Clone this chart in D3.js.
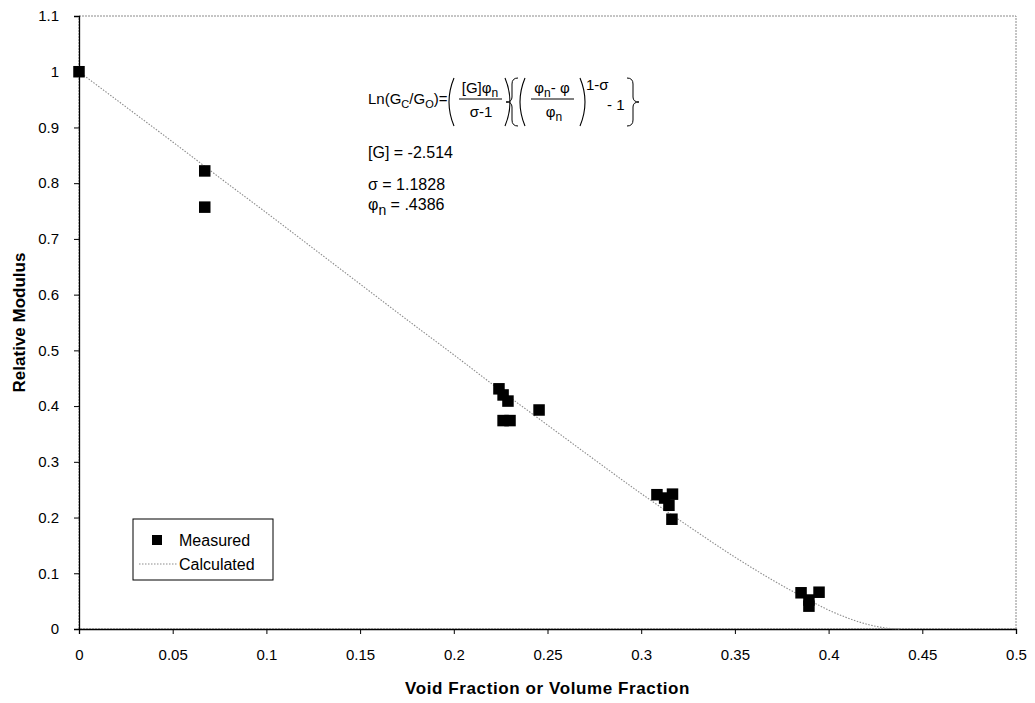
<!DOCTYPE html>
<html>
<head>
<meta charset="utf-8">
<script src="https://cdn.jsdelivr.net/npm/d3@7/dist/d3.min.js"></script>
<style>
  html, body { margin: 0; padding: 0; background: #fff; }
  svg { display: block; font-family: "Liberation Sans", Arial, sans-serif; }
</style>
</head>
<body>
<svg id="chart" width="1035" height="703"></svg>
<script>
// ---- data ----
const measuredX = [0, 0.0671, 0.0671, 0.2241, 0.2263, 0.2289, 0.2263, 0.2300, 0.2455,
                   0.3084, 0.3125, 0.3167, 0.3148, 0.3164, 0.3853, 0.3949, 0.3895, 0.3895];
const measuredY = [1.0, 0.822, 0.757, 0.431, 0.420, 0.409, 0.374, 0.374, 0.393,
                   0.241, 0.235, 0.242, 0.222, 0.197, 0.065, 0.066, 0.052, 0.041];

const calcX = [0, 0.025, 0.05, 0.075, 0.1, 0.125, 0.15, 0.175, 0.2, 0.225, 0.25, 0.275,
               0.3, 0.325, 0.35, 0.37, 0.39, 0.40, 0.41, 0.42, 0.43, 0.4386];
const calcY = [1.0, 0.937, 0.874, 0.810, 0.747, 0.683, 0.619, 0.555, 0.492, 0.428, 0.366, 0.304,
               0.243, 0.185, 0.129, 0.088, 0.051, 0.034, 0.020, 0.009, 0.002, 0.0];

const xTicks = [0, 0.05, 0.1, 0.15, 0.2, 0.25, 0.3, 0.35, 0.4, 0.45, 0.5];
const xTickLabels = ["0", "0.05", "0.1", "0.15", "0.2", "0.25", "0.3", "0.35", "0.4", "0.45", "0.5"];
const yTicks = [0, 0.1, 0.2, 0.3, 0.4, 0.5, 0.6, 0.7, 0.8, 0.9, 1.0, 1.1];
const yTickLabels = ["0", "0.1", "0.2", "0.3", "0.4", "0.5", "0.6", "0.7", "0.8", "0.9", "1", "1.1"];

const seriesNames = ["Measured", "Calculated"];
const xTitle = "Void Fraction or Volume Fraction";
const yTitle = "Relative Modulus";

// ---- layout ----
const svg = d3.select("#chart");
const pL = 79, pR = 1016, pT = 16, pB = 629;
const x = d3.scaleLinear().domain([0, 0.5]).range([pL, pR]);
const y = d3.scaleLinear().domain([0, 1.1]).range([pB, pT]);

// plot border (light grey)
svg.append("rect")
  .attr("x", pL).attr("y", pT)
  .attr("width", pR - pL).attr("height", pB - pT)
  .attr("fill", "none").attr("stroke", "#8a8a8a").attr("stroke-width", 1)
  .attr("stroke-dasharray", "2,1");

// axes
const xAxis = svg.append("g").attr("transform", `translate(0,${pB})`)
  .call(d3.axisBottom(x).tickValues(xTicks).tickSize(5).tickPadding(15)
    .tickFormat((d, i) => xTickLabels[i]));
const yAxis = svg.append("g").attr("transform", `translate(${pL},0)`)
  .call(d3.axisLeft(y).tickValues(yTicks).tickSize(5).tickPadding(15)
    .tickFormat((d, i) => yTickLabels[i]));
[xAxis, yAxis].forEach(a => {
  a.select(".domain").attr("stroke", "#000").attr("stroke-width", 1.3);
  a.selectAll(".tick line").attr("stroke", "#000");
  a.selectAll(".tick text").attr("font-size", 15).attr("fill", "#000")
    .attr("font-family", "'Liberation Sans', Arial, sans-serif");
});

// axis titles
svg.append("text").attr("x", (pL + pR) / 2).attr("y", 694)
  .attr("text-anchor", "middle").attr("font-size", 17).attr("font-weight", "bold")
  .attr("letter-spacing", 0.6)
  .text(xTitle);
svg.append("text").attr("transform", `translate(25,${(pT + pB) / 2}) rotate(-90)`)
  .attr("text-anchor", "middle").attr("font-size", 17).attr("font-weight", "bold")
  .text(yTitle);

// calculated line
const line = d3.line().x((d, i) => x(calcX[i])).y((d, i) => y(calcY[i])).curve(d3.curveMonotoneX);
svg.append("path").datum(calcX)
  .attr("d", line)
  .attr("fill", "none").attr("stroke", "#8c8c8c").attr("stroke-width", 1.1)
  .attr("stroke-dasharray", "1.5,1.5");

// measured squares
const sz = 11.5;
svg.append("g").selectAll("rect").data(measuredX).join("rect")
  .attr("x", (d, i) => x(measuredX[i]) - sz / 2)
  .attr("y", (d, i) => y(measuredY[i]) - sz / 2)
  .attr("width", sz).attr("height", sz).attr("fill", "#000");

// legend
const lg = svg.append("g");
lg.append("rect").attr("x", 133).attr("y", 519).attr("width", 140).attr("height", 61)
  .attr("fill", "#fff").attr("stroke", "#000").attr("stroke-width", 1);
lg.append("rect").attr("x", 157 - 5).attr("y", 540 - 5).attr("width", 10).attr("height", 10).attr("fill", "#000");
lg.append("text").attr("x", 179).attr("y", 546).attr("font-size", 16).text(seriesNames[0]);
lg.append("line").attr("x1", 139).attr("x2", 178).attr("y1", 564).attr("y2", 564)
  .attr("stroke", "#8c8c8c").attr("stroke-width", 1.1).attr("stroke-dasharray", "1.5,1.5");
lg.append("text").attr("x", 179).attr("y", 570).attr("font-size", 16).text(seriesNames[1]);

// ---- equation annotation ----
const eq = svg.append("g").attr("font-size", 15).attr("fill", "#000");
const base = 104;
function paren(xp, y0, y1, dir) {
  eq.append("path").attr("d", `M${xp},${y0} Q${xp - dir * 10},${(y0 + y1) / 2} ${xp},${y1}`)
    .attr("fill", "none").attr("stroke", "#000").attr("stroke-width", 1.1);
}
function brace(xp, y0, y1, dir) {
  const w = 6 * dir, ym = (y0 + y1) / 2;
  eq.append("path").attr("d",
    `M${xp + w},${y0} Q${xp},${y0} ${xp},${y0 + 6} L${xp},${ym - 5} Q${xp},${ym} ${xp - w},${ym}` +
    ` Q${xp},${ym} ${xp},${ym + 5} L${xp},${y1 - 6} Q${xp},${y1} ${xp + w},${y1}`)
    .attr("fill", "none").attr("stroke", "#000").attr("stroke-width", 1);
}
const t1 = eq.append("text").attr("x", 368).attr("y", base);
t1.append("tspan").text("Ln(G");
t1.append("tspan").attr("font-size", 11).attr("dy", 4).text("C");
t1.append("tspan").attr("dy", -4).text("/G");
t1.append("tspan").attr("font-size", 11).attr("dy", 4).text("O");
t1.append("tspan").attr("dy", -4).text(")=");

paren(454, 78, 126, 1);
const n1 = eq.append("text").attr("x", 480).attr("y", 93).attr("text-anchor", "middle");
n1.append("tspan").text("[G]φ");
n1.append("tspan").attr("font-size", 12).attr("dy", 4).text("n");
eq.append("line").attr("x1", 459).attr("x2", 502).attr("y1", 99).attr("y2", 99)
  .attr("stroke", "#000").attr("stroke-width", 1);
eq.append("text").attr("x", 481).attr("y", 117).attr("text-anchor", "middle").text("σ-1");
paren(505, 78, 126, -1);

brace(512, 78, 126, 1);
paren(525, 78, 126, 1);
const n2 = eq.append("text").attr("x", 552).attr("y", 93).attr("text-anchor", "middle");
n2.append("tspan").text("φ");
n2.append("tspan").attr("font-size", 12).attr("dy", 4).text("n");
n2.append("tspan").attr("dy", -4).text("- φ");
eq.append("line").attr("x1", 531).attr("x2", 574).attr("y1", 99).attr("y2", 99)
  .attr("stroke", "#000").attr("stroke-width", 1);
const d2 = eq.append("text").attr("x", 554).attr("y", 117).attr("text-anchor", "middle");
d2.append("tspan").text("φ");
d2.append("tspan").attr("font-size", 12).attr("dy", 4).text("n");
paren(580, 78, 126, -1);
eq.append("text").attr("x", 586).attr("y", 90).text("1-σ");
eq.append("text").attr("x", 607).attr("y", 110).text("- 1");
brace(633, 78, 126, -1);

const p = svg.append("g").attr("font-size", 16);
p.append("text").attr("x", 368).attr("y", 158).text("[G] = -2.514");
p.append("text").attr("x", 368).attr("y", 190).text("σ = 1.1828");
const ph = p.append("text").attr("x", 368).attr("y", 210);
ph.append("tspan").text("φ");
ph.append("tspan").attr("font-size", 14).attr("dy", 5).text("n");
ph.append("tspan").attr("dy", -5).text(" = .4386");
</script>
</body>
</html>
